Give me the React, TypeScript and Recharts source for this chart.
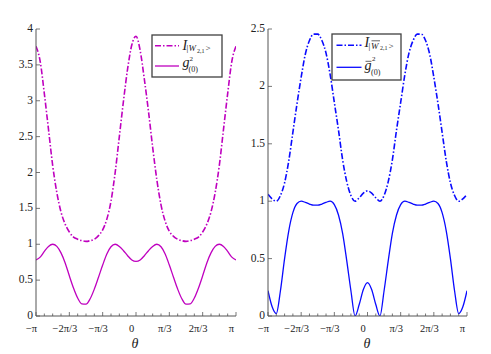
import React from 'react';
import { LineChart, Line, XAxis, YAxis } from 'recharts';

// theta grid in units of pi/24 (from -pi to pi)
const thetaSteps = [
  -24, -23, -22, -21, -20, -19, -18, -17, -16, -15, -14, -13, -12, -11, -10, -9, -8, -7, -6, -5, -4, -3, -2, -1,
  0, 1, 2, 3, 4, 5, 6, 7, 8, 9, 10, 11, 12, 13, 14, 15, 16, 17, 18, 19, 20, 21, 22, 23, 24,
];

// Left panel
const leftIntensity = [
  3.76, 3.55, 3.1, 2.6, 2.1, 1.72, 1.45, 1.28, 1.17, 1.1, 1.07, 1.05, 1.04, 1.05, 1.07, 1.12, 1.2, 1.35, 1.6, 2.0, 2.5, 3.0, 3.45, 3.78,
  3.9,
  3.7, 3.3, 2.85, 2.35, 1.9, 1.55, 1.32, 1.18, 1.11, 1.07, 1.05, 1.04, 1.05, 1.07, 1.1, 1.17, 1.28, 1.45, 1.72, 2.1, 2.6, 3.1, 3.55, 3.76,
];
const leftG2 = [
  0.78, 0.82, 0.9, 0.97, 1.0, 0.97, 0.88, 0.74, 0.56, 0.39, 0.25, 0.17, 0.165, 0.24, 0.375, 0.54, 0.71, 0.865, 0.965, 1.0, 0.97, 0.91, 0.84, 0.78,
  0.76,
  0.78, 0.84, 0.91, 0.97, 1.0, 0.965, 0.865, 0.71, 0.54, 0.375, 0.24, 0.165, 0.17, 0.25, 0.39, 0.56, 0.74, 0.88, 0.97, 1.0, 0.97, 0.9, 0.82, 0.78,
];

// Right panel
const rightIntensity = [
  1.06, 1.02, 1.0, 1.05, 1.16, 1.35, 1.6, 1.85, 2.08, 2.28, 2.4, 2.455, 2.455, 2.4, 2.29, 2.1, 1.86, 1.62, 1.36, 1.17, 1.05, 1.0, 1.03, 1.07,
  1.09,
  1.07, 1.03, 1.0, 1.05, 1.17, 1.36, 1.62, 1.86, 2.1, 2.29, 2.4, 2.455, 2.455, 2.4, 2.28, 2.08, 1.85, 1.6, 1.35, 1.16, 1.05, 1.0, 1.02, 1.06,
];
const rightG2 = [
  0.22, 0.08, 0.02, 0.22, 0.5, 0.74, 0.9, 0.98, 1.0, 0.99, 0.975, 0.965, 0.965, 0.975, 0.99, 1.0, 0.97, 0.88, 0.72, 0.48, 0.22, 0.0, 0.1, 0.23,
  0.29,
  0.23, 0.1, 0.0, 0.22, 0.48, 0.72, 0.88, 0.97, 1.0, 0.99, 0.975, 0.965, 0.965, 0.975, 0.99, 1.0, 0.98, 0.9, 0.74, 0.5, 0.22, 0.02, 0.08, 0.22,
];

const xTickLabels: Record<number, string> = {
  [-24]: '−π', [-16]: '−2π/3', [-8]: '−π/3', 0: '0', 8: 'π/3', 16: '2π/3', 24: 'π',
};
const xTickPositions = [
  -24, -22, -20, -18, -16, -14, -12, -10, -8, -6, -4, -2, 0, 2, 4, 6, 8, 10, 12, 14, 16, 18, 20, 22, 24,
];
const leftYTicks = [0, 0.5, 1, 1.5, 2, 2.5, 3, 3.5, 4];
const rightYTicks = [0, 0.5, 1, 1.5, 2, 2.5];

const leftData = thetaSteps.map((k, i) => ({ k, I: leftIntensity[i], g: leftG2[i] }));
const rightData = thetaSteps.map((k, i) => ({ k, I: rightIntensity[i], g: rightG2[i] }));

const MAGENTA = '#bf00bf';
const BLUE = '#0a0aff';
const FONT = "'Liberation Serif', 'Times New Roman', 'DejaVu Serif', serif";
const DASHDOT = '6 2 1.5 2';
const serif = { fontFamily: FONT };
const serifItalic = { fontFamily: FONT, fontStyle: 'italic' as const };

const BottomTick = (props: any) => {
  const { x, y, payload } = props;
  const v = payload.value as number;
  const major = v % 8 === 0;
  return (
    <g>
      <line x1={x} x2={x} y1={y} y2={y - (major ? 4 : 2.5)} stroke="#555" strokeWidth={0.8} />
      {major && (
        <text x={x - 4.5} y={y + 15.5} textAnchor="middle" fontSize={10.5} style={serif} fill="#222">
          {xTickLabels[v]}
        </text>
      )}
    </g>
  );
};
const TopTick = (props: any) => {
  const { x, y, payload } = props;
  const major = (payload.value as number) % 8 === 0;
  return <line x1={x} x2={x} y1={y} y2={y + (major ? 4 : 2.5)} stroke="#777" strokeWidth={0.8} />;
};
const LeftTick = (props: any) => {
  const { x, y, payload } = props;
  return (
    <g>
      <line x1={x} x2={x + 4} y1={y} y2={y} stroke="#555" strokeWidth={0.8} />
      <text x={x - 3} y={y + 3} textAnchor="end" fontSize={11.5} style={serif} fill="#222">
        {String(payload.value)}
      </text>
    </g>
  );
};
const RightTick = (props: any) => {
  const { x, y } = props;
  return <line x1={x} x2={x - 4} y1={y} y2={y} stroke="#777" strokeWidth={0.8} />;
};

function Panel(props: {
  data: any[];
  width: number;
  yWidth: number;
  rightMargin: number;
  yMax: number;
  yTicks: number[];
  color: string;
}) {
  const { data, width, yWidth, rightMargin, yMax, yTicks, color } = props;
  return (
    <LineChart width={width} height={354} data={data} margin={{ top: 29, right: rightMargin, bottom: 18, left: 0 }}>
      <XAxis
        xAxisId="b"
        dataKey="k"
        type="number"
        domain={[-24, 24]}
        ticks={xTickPositions}
        interval={0}
        tickSize={0}
        tickMargin={0}
        height={20}
        axisLine={{ stroke: '#555', strokeWidth: 1 }}
        tickLine={false}
        tick={<BottomTick />}
        allowDataOverflow
      />
      <XAxis
        xAxisId="t"
        orientation="top"
        dataKey="k"
        type="number"
        domain={[-24, 24]}
        ticks={xTickPositions}
        interval={0}
        tickSize={0}
        tickMargin={0}
        height={0}
        axisLine={{ stroke: '#888', strokeWidth: 1 }}
        tickLine={false}
        tick={<TopTick />}
        allowDataOverflow
      />
      <YAxis
        yAxisId="l"
        type="number"
        domain={[0, yMax]}
        ticks={yTicks}
        interval={0}
        tickSize={0}
        tickMargin={0}
        width={yWidth}
        axisLine={{ stroke: '#555', strokeWidth: 1 }}
        tickLine={false}
        tick={<LeftTick />}
        allowDataOverflow
      />
      <YAxis
        yAxisId="r"
        orientation="right"
        type="number"
        domain={[0, yMax]}
        ticks={yTicks}
        interval={0}
        tickSize={0}
        tickMargin={0}
        width={0}
        axisLine={{ stroke: '#888', strokeWidth: 1 }}
        tickLine={false}
        tick={<RightTick />}
        allowDataOverflow
      />
      <Line
        xAxisId="b"
        yAxisId="l"
        type="monotone"
        dataKey="I"
        stroke={color}
        strokeWidth={1.6}
        strokeDasharray={DASHDOT}
        dot={false}
        isAnimationActive={false}
      />
      <Line
        xAxisId="b"
        yAxisId="l"
        type="monotone"
        dataKey="g"
        stroke={color}
        strokeWidth={1.3}
        dot={false}
        isAnimationActive={false}
      />
    </LineChart>
  );
}

export default function App() {
  return (
    <div style={{ position: 'fixed', left: 0, top: 0, width: 491, height: 354, background: '#fff', overflow: 'hidden' }}>
      <div style={{ position: 'absolute', left: 0, top: 0 }}>
        <Panel data={leftData} width={245} yWidth={36} rightMargin={9} yMax={4} yTicks={leftYTicks} color={MAGENTA} />
      </div>
      <div style={{ position: 'absolute', left: 245, top: 0 }}>
        <Panel data={rightData} width={246} yWidth={23} rightMargin={24} yMax={2.5} yTicks={rightYTicks} color={BLUE} />
      </div>
      <svg width={491} height={354} style={{ position: 'absolute', left: 0, top: 0, pointerEvents: 'none' }}>
        {/* theta labels */}
        <text x={135} y={348} textAnchor="middle" fontSize={14} style={serifItalic} fill="#222">θ</text>
        <text x={367} y={348} textAnchor="middle" fontSize={14} style={serifItalic} fill="#222">θ</text>

        {/* left legend */}
        <rect x={152} y={35} width={70} height={42} fill="#fff" stroke="#404040" strokeWidth={1.3} />
        <line x1={155} x2={179} y1={45.7} y2={45.7} stroke={MAGENTA} strokeWidth={1.6} strokeDasharray={DASHDOT} />
        <text x={182.5} y={49.5} fontSize={14} style={serifItalic} fill="#222">I</text>
        <text x={186.5} y={51} fontSize={9} style={serif} fill="#222">|</text>
        <text x={188.5} y={51} fontSize={9} style={serifItalic} fill="#222">W</text>
        <text x={197} y={52.5} fontSize={6} style={serif} fill="#222">2,1</text>
        <text x={205.5} y={51} fontSize={9} style={serif} fill="#222">&gt;</text>
        <line x1={155} x2={179} y1={66} y2={66} stroke={MAGENTA} strokeWidth={1.3} />
        <text x={182.5} y={67} fontSize={14} style={serifItalic} fill="#222">g</text>
        <text x={189.5} y={61} fontSize={7} style={serif} fill="#222">2</text>
        <text x={188.5} y={71.5} fontSize={8} style={serif} fill="#222">(0)</text>

        {/* right legend */}
        <rect x={332} y={34} width={69} height={46} fill="#fff" stroke="#404040" strokeWidth={1.3} />
        <line x1={336.5} x2={361.5} y1={45.3} y2={45.3} stroke={BLUE} strokeWidth={1.6} strokeDasharray={DASHDOT} />
        <text x={364.5} y={46.5} fontSize={14} style={serifItalic} fill="#222">I</text>
        <text x={368.5} y={48.5} fontSize={9} style={serif} fill="#222">|</text>
        <text x={371} y={48.5} fontSize={9} style={serifItalic} fill="#222">W</text>
        <line x1={371.5} x2={380} y1={40.8} y2={40.8} stroke="#222" strokeWidth={0.7} />
        <text x={380} y={50} fontSize={6} style={serif} fill="#222">2,1</text>
        <text x={388.5} y={48.5} fontSize={9} style={serif} fill="#222">&gt;</text>
        <line x1={336.5} x2={361.5} y1={67.3} y2={67.3} stroke={BLUE} strokeWidth={1.3} />
        <text x={364.5} y={69.5} fontSize={14} style={serifItalic} fill="#222">g</text>
        <line x1={365.5} x2={371.5} y1={61.3} y2={61.3} stroke="#222" strokeWidth={0.7} />
        <text x={372} y={61} fontSize={7} style={serif} fill="#222">2</text>
        <text x={371} y={74.5} fontSize={8} style={serif} fill="#222">(0)</text>
      </svg>
    </div>
  );
}
